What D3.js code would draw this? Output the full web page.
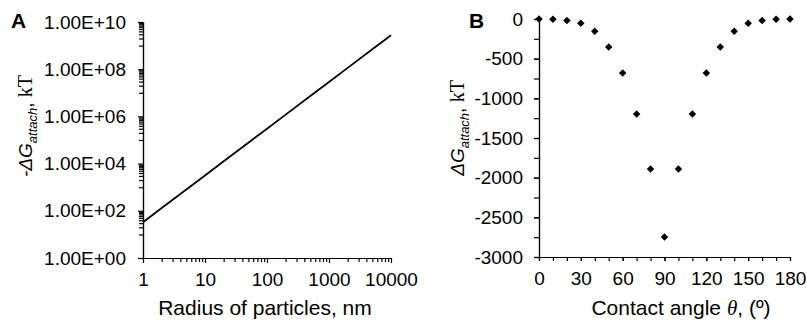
<!DOCTYPE html>
<html lang="en">
<head>
    <meta charset="UTF-8">
    <title>Attachment energy</title>
    <script src="https://d3js.org/d3.v7.min.js"></script>
    <style>
        body { margin: 0; background: #fff; }
        svg { display: block; font-family: "Liberation Sans", Arial, sans-serif; }
        .axis path, .axis line { stroke: #000; stroke-width: 1.2; }
        .axis text { fill: #000; font-family: "Liberation Sans", Arial, sans-serif; }
    </style>
</head>
<body>
    <div id="canvas"></div>
    <script>
        // panel A: radius of particles (nm) vs -dG attach (kT)
        const radius = [1, 2, 5, 10, 20, 50, 100, 200, 500, 1000, 2000, 5000, 10000];
        const dGattachA = [33, 131, 802, 3160, 12500, 76600, 302000, 1190000, 7310000, 28800000, 114000000, 698000000, 2750000000];
        const xTicksA = [1, 10, 100, 1000, 10000];
        const xTickLabelsA = ['1', '10', '100', '1000', '10000'];
        const yTicksA = [1, 1e2, 1e4, 1e6, 1e8, 1e10];
        const yTickLabelsA = ['1.00E+00', '1.00E+02', '1.00E+04', '1.00E+06', '1.00E+08', '1.00E+10'];

        // panel B: contact angle (deg) vs dG attach (kT)
        const angle = [0, 10, 20, 30, 40, 50, 60, 70, 80, 90, 100, 110, 120, 130, 140, 150, 160, 170, 180];
        const dGattachB = [0, -3, -20, -55, -155, -352, -680, -1197, -1890, -2747, -1890, -1197, -680, -352, -155, -55, -20, -3, 0];
        const xTicksB = [0, 30, 60, 90, 120, 150, 180];
        const yTicksB = [0, -500, -1000, -1500, -2000, -2500, -3000];

        const svg = d3.select('#canvas').append('svg').attr('width', 807).attr('height', 325);

        // ---------- panel A ----------
        const xA = d3.scaleLog().domain([1, 10000]).range([143, 391]);
        const yA = d3.scaleLog().domain([1, 1e10]).range([258, 22]);

        // minor ticks
        let minorXA = [];
        for (let k = 0; k < 4; k++) for (let m = 2; m <= 9; m++) minorXA.push(m * Math.pow(10, k));
        let minorYA = [];
        for (let k = 1; k < 10; k += 2) for (let m = 1; m <= 9; m++) minorYA.push(m * Math.pow(10, k));

        svg.append('g').attr('class', 'axis').attr('transform', 'translate(0,258)')
            .call(d3.axisBottom(xA).tickValues(minorXA).tickSize(4).tickSizeOuter(0).tickFormat(''));
        svg.append('g').attr('class', 'axis').attr('transform', 'translate(0,258)')
            .call(d3.axisBottom(xA).tickValues(xTicksA).tickSize(5).tickSizeOuter(0).tickPadding(10)
                .tickFormat((d, i) => xTickLabelsA[i]))
            .selectAll('text').style('font-size', '19px');

        svg.append('g').attr('class', 'axis').attr('transform', 'translate(143,0)')
            .call(d3.axisLeft(yA).tickValues(minorYA).tickSize(4).tickSizeOuter(0).tickFormat(''));
        svg.append('g').attr('class', 'axis').attr('transform', 'translate(143,0)')
            .call(d3.axisLeft(yA).tickValues(yTicksA).tickSize(5).tickSizeOuter(0).tickPadding(12)
                .tickFormat((d, i) => yTickLabelsA[i]))
            .selectAll('text').style('font-size', '19px');

        const line = d3.line().x(d => xA(d[0])).y(d => yA(d[1]));
        svg.append('path')
            .datum(radius.map((r, i) => [r, dGattachA[i]]))
            .attr('d', line)
            .attr('fill', 'none')
            .attr('stroke', '#000')
            .attr('stroke-width', 1.8);

        svg.append('text').attr('x', 11).attr('y', 28)
            .style('font-size', '21px').style('font-weight', 'bold').text('A');

        svg.append('text').attr('x', 265).attr('y', 315)
            .attr('text-anchor', 'middle').style('font-size', '21px')
            .text('Radius of particles, nm');

        function yTitle(x, y, minus) {
            const t = svg.append('text')
                .attr('transform', `translate(${x},${y}) rotate(-90)`)
                .attr('text-anchor', 'middle')
                .style('font-size', '19px');
            t.append('tspan').style('font-style', 'italic').text((minus ? '-' : '') + '\u0394G');
            t.append('tspan').style('font-style', 'italic').style('font-size', '13px').attr('dy', 5).text('attach');
            t.append('tspan').attr('dy', -5).text(', ');
            t.append('tspan').style('font-family', '"Liberation Serif", "Times New Roman", serif')
                .style('font-size', '20px').text('kT');
        }
        yTitle(32, 126, true);

        // ---------- panel B ----------
        const xB = d3.scaleLinear().domain([0, 180]).range([539, 790]);
        const yB = d3.scaleLinear().domain([0, -3000]).range([19, 257]);

        svg.append('g').attr('class', 'axis').attr('transform', 'translate(0,257)')
            .call(d3.axisBottom(xB).tickValues(d3.range(0, 181, 10)).tickSize(4).tickSizeOuter(0).tickFormat(''));
        svg.append('g').attr('class', 'axis').attr('transform', 'translate(0,257)')
            .call(d3.axisBottom(xB).tickValues(xTicksB).tickSize(4).tickSizeOuter(0).tickPadding(11))
            .selectAll('text').style('font-size', '19px');

        svg.append('g').attr('class', 'axis').attr('transform', 'translate(539,0)')
            .call(d3.axisLeft(yB).tickValues(d3.range(0, -3001, -250)).tickSize(5).tickSizeOuter(0).tickFormat(''));
        svg.append('g').attr('class', 'axis').attr('transform', 'translate(539,0)')
            .call(d3.axisLeft(yB).tickValues(yTicksB).tickSize(5).tickSizeOuter(0).tickPadding(11)
                .tickFormat(d => d === 0 ? '0' : '-' + Math.abs(d)))
            .selectAll('text').style('font-size', '19px');

        svg.selectAll('.pt')
            .data(angle.map((a, i) => [a, dGattachB[i]]))
            .enter()
            .append('path')
            .attr('class', 'pt')
            .attr('d', d3.symbol(d3.symbolSquare, 28))
            .attr('transform', d => `translate(${xB(d[0])},${yB(d[1])}) rotate(45)`)
            .attr('fill', '#000');

        svg.append('text').attr('x', 469).attr('y', 28)
            .style('font-size', '21px').style('font-weight', 'bold').text('B');

        const tB = svg.append('text').attr('x', 681).attr('y', 315)
            .attr('text-anchor', 'middle').style('font-size', '21px');
        tB.append('tspan').text('Contact angle ');
        tB.append('tspan').style('font-family', '"Liberation Serif", "Times New Roman", serif')
            .style('font-style', 'italic').text('\u03B8');
        tB.append('tspan').text(', (\u00BA)');

        yTitle(464, 128, false);
    </script>
</body>
</html>
